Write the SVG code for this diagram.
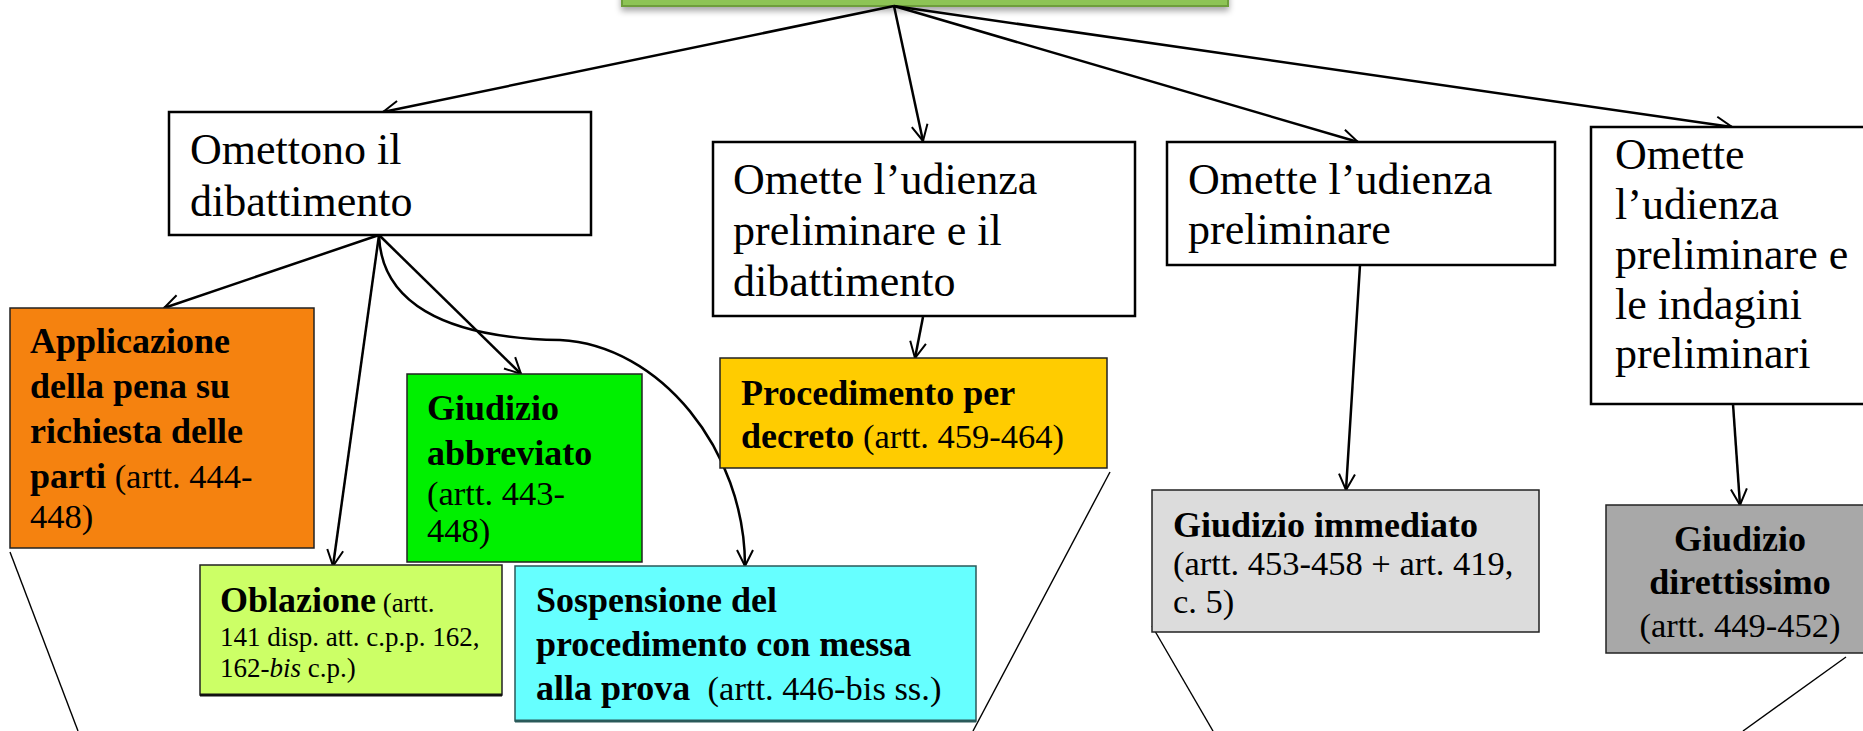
<svg xmlns="http://www.w3.org/2000/svg" width="1863" height="731" viewBox="0 0 1863 731">
<style>
.box{stroke:#000;stroke-width:2.5}
.cbox{stroke:#222;stroke-width:1.5}
.t{font-family:"Liberation Serif","Times New Roman",serif;font-size:44px;fill:#000}
.b{font-family:"Liberation Serif","Times New Roman",serif;font-size:36px;font-weight:bold;fill:#000}
.r{font-family:"Liberation Serif","Times New Roman",serif;font-size:34.5px;font-weight:normal}
.s{font-family:"Liberation Serif","Times New Roman",serif;font-size:27px;font-weight:normal;fill:#000}
.c{fill:none;stroke:#000;stroke-width:2.5}
.f{fill:none;stroke:#000;stroke-width:1.4}
</style>
<defs>
<marker id="arr" viewBox="0 0 20 20" refX="18" refY="10" markerWidth="20" markerHeight="20" markerUnits="userSpaceOnUse" orient="auto">
<path d="M2,2 L18,10 L2,18" fill="none" stroke="#000" stroke-width="2"/>
</marker>
<filter id="sh" x="-5%" y="-50%" width="110%" height="200%">
<feDropShadow dx="0" dy="4" stdDeviation="3" flood-color="#000" flood-opacity="0.35"/>
</filter>
</defs>
<rect width="1863" height="731" fill="#fff"/>

<g id="top">
<rect x="622" y="-40" width="606" height="46" fill="#8DC455" stroke="#6E9E3A" stroke-width="2" filter="url(#sh)"/>
</g>

<g id="connectors">
<line class="c" x1="894" y1="6" x2="383" y2="112" marker-end="url(#arr)"/>
<line class="c" x1="894" y1="6" x2="923" y2="141" marker-end="url(#arr)"/>
<line class="c" x1="894" y1="6" x2="1358" y2="142" marker-end="url(#arr)"/>
<line class="c" x1="894" y1="6" x2="1732" y2="127" marker-end="url(#arr)"/>
<line class="c" x1="379" y1="235" x2="164" y2="308" marker-end="url(#arr)"/>
<line class="c" x1="379" y1="235" x2="333" y2="566" marker-end="url(#arr)"/>
<line class="c" x1="379" y1="235" x2="521" y2="374" marker-end="url(#arr)"/>
<path class="c" d="M379,235 C381,300 440,338 560,340 C660,345 745,450 745,566" marker-end="url(#arr)"/>
<line class="c" x1="923" y1="317" x2="915" y2="358" marker-end="url(#arr)"/>
<line class="c" x1="1360" y1="265" x2="1346" y2="490" marker-end="url(#arr)"/>
<line class="c" x1="1733" y1="404" x2="1740" y2="505" marker-end="url(#arr)"/>
<line class="f" x1="10" y1="552" x2="78" y2="731"/>
<line class="f" x1="1110" y1="472" x2="973" y2="731"/>
<line class="f" x1="1152" y1="626" x2="1213" y2="731"/>
<line class="f" x1="1846" y1="657" x2="1743" y2="731"/>
</g>

<g id="omettono">
<rect class="box" x="169" y="112" width="422" height="123" fill="#fff"/>
<text class="t" x="190" y="164">Omettono il</text>
<text class="t" x="190" y="216">dibattimento</text>
</g>

<g id="omette-udienza-dibattimento">
<rect class="box" x="713" y="142" width="422" height="174" fill="#fff"/>
<text class="t" x="733" y="194">Omette l’udienza</text>
<text class="t" x="733" y="245">preliminare e il</text>
<text class="t" x="733" y="296">dibattimento</text>
</g>

<g id="omette-udienza">
<rect class="box" x="1167" y="142" width="388" height="123" fill="#fff"/>
<text class="t" x="1188" y="194">Omette l’udienza</text>
<text class="t" x="1188" y="244">preliminare</text>
</g>

<g id="omette-indagini">
<rect class="box" x="1591" y="127" width="290" height="277" fill="#fff"/>
<text class="t" x="1615" y="169">Omette</text>
<text class="t" x="1615" y="219">l’udienza</text>
<text class="t" x="1615" y="269">preliminare e</text>
<text class="t" x="1615" y="319">le indagini</text>
<text class="t" x="1615" y="368">preliminari</text>
</g>

<g id="applicazione">
<rect class="cbox" x="10" y="308" width="304" height="240" fill="#F5820F"/>
<text class="b" x="30" y="353">Applicazione</text>
<text class="b" x="30" y="398">della pena su</text>
<text class="b" x="30" y="443">richiesta delle</text>
<text class="b" x="30" y="488">parti<tspan class="r"> (artt. 444-</tspan></text>
<text class="b" x="30" y="528"><tspan class="r">448)</tspan></text>
</g>

<g id="abbreviato">
<rect class="cbox" x="407" y="374" width="235" height="188" fill="#00F000"/>
<text class="b" x="427" y="420">Giudizio</text>
<text class="b" x="427" y="465">abbreviato</text>
<text class="b" x="427" y="505"><tspan class="r">(artt. 443-</tspan></text>
<text class="b" x="427" y="542"><tspan class="r">448)</tspan></text>
</g>

<g id="oblazione">
<rect x="200" y="565" width="302" height="130" fill="#CCFF66" stroke="#222" stroke-width="1.5"/>
<line x1="200" y1="695" x2="502" y2="695" stroke="#111" stroke-width="3"/>
<text class="b" x="220" y="612">Oblazione<tspan class="s"> (artt.</tspan></text>
<text class="s" x="220" y="646">141 disp. att. c.p.p. 162,</text>
<text class="s" x="220" y="677">162-<tspan font-style="italic">bis</tspan> c.p.)</text>
</g>

<g id="sospensione">
<rect x="515" y="566" width="461" height="155" fill="#66FFFF" stroke="#2a5a5a" stroke-width="1.5"/>
<line x1="515" y1="721" x2="976" y2="721" stroke="#2a5a5a" stroke-width="3"/>
<text class="b" x="536" y="612">Sospensione del</text>
<text class="b" x="536" y="656">procedimento con messa</text>
<text class="b" x="536" y="700" xml:space="preserve">alla prova<tspan class="r">  (artt. 446-bis ss.)</tspan></text>
</g>

<g id="decreto">
<rect class="cbox" x="720" y="358" width="387" height="110" fill="#FFCC00"/>
<text class="b" x="741" y="405">Procedimento per</text>
<text class="b" x="741" y="448">decreto<tspan class="r"> (artt. 459-464)</tspan></text>
</g>

<g id="immediato">
<rect class="cbox" x="1152" y="490" width="387" height="142" fill="#DCDCDC"/>
<text class="b" x="1173" y="537">Giudizio immediato</text>
<text class="b" x="1173" y="575"><tspan class="r">(artt. 453-458 + art. 419,</tspan></text>
<text class="b" x="1173" y="613"><tspan class="r">c. 5)</tspan></text>
</g>

<g id="direttissimo">
<rect class="cbox" x="1606" y="505" width="270" height="148" fill="#A8A8A8"/>
<text class="b" x="1740" y="551" text-anchor="middle">Giudizio</text>
<text class="b" x="1740" y="594" text-anchor="middle">direttissimo</text>
<text class="b" x="1740" y="637" text-anchor="middle"><tspan class="r">(artt. 449-452)</tspan></text>
</g>
</svg>
